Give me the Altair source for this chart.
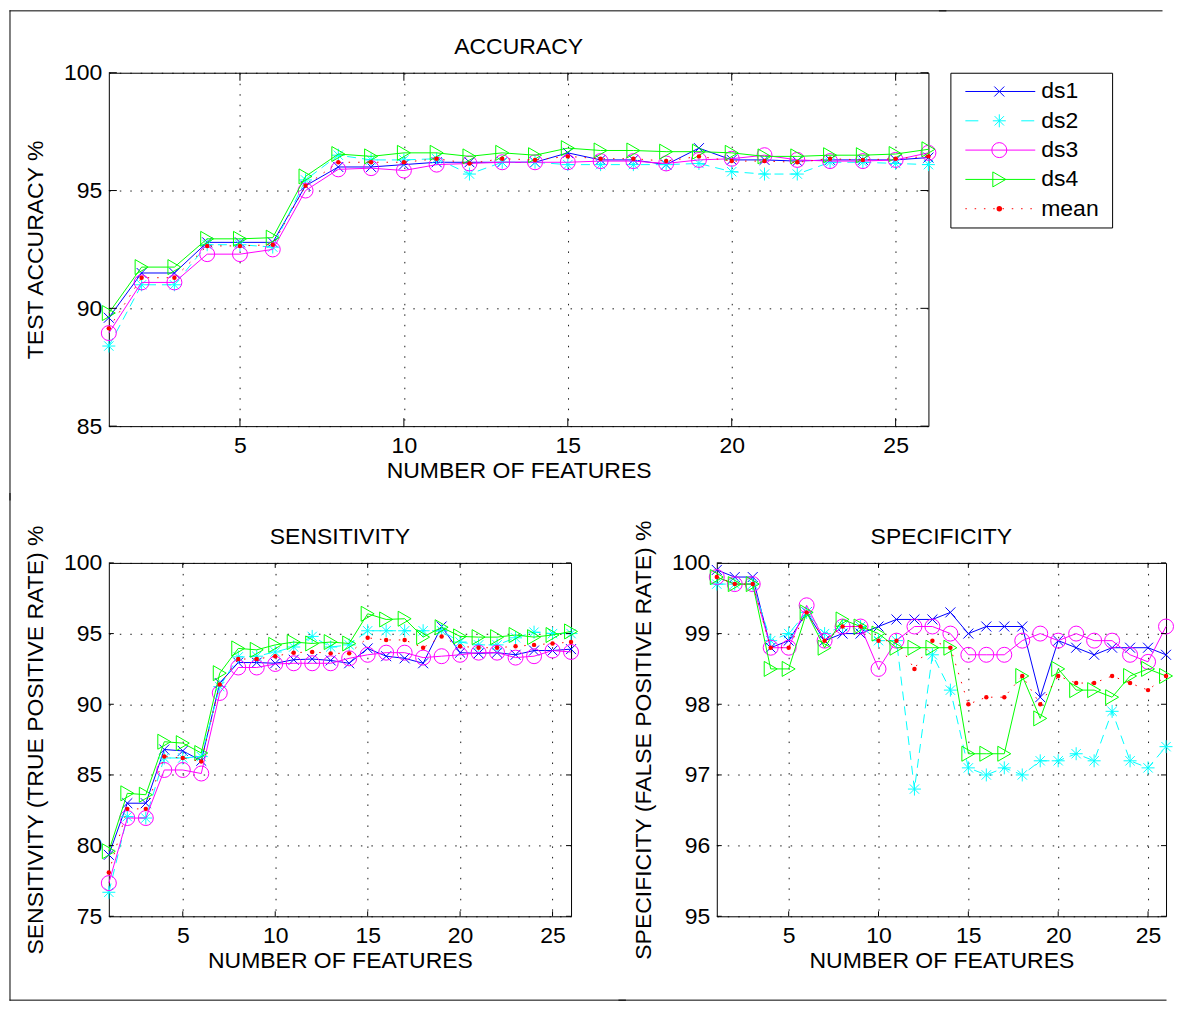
import altair as alt
import pandas as pd

# ---------------- data ----------------
features = list(range(1, 27))
series = ["ds1", "ds2", "ds3", "ds4", "mean"]
x_ticks = [5, 10, 15, 20, 25]

acc_ds1 = [89.6, 91.5, 91.5, 92.8, 92.8, 92.8, 95.2, 96.0, 96.0, 96.1, 96.2, 96.2, 96.2,
           96.2, 96.6, 96.3, 96.3, 96.1, 96.8, 96.3, 96.3, 96.25, 96.3, 96.3, 96.3, 96.4]
acc_ds2 = [88.4, 91.0, 91.0, 92.7, 92.7, 92.6, 95.45, 96.5, 96.3, 96.3, 96.35, 95.7, 96.2,
           96.2, 96.1, 96.1, 96.1, 96.1, 96.15, 95.8, 95.7, 95.7, 96.2, 96.2, 96.15, 96.1]
acc_ds3 = [88.95, 91.1, 91.1, 92.3, 92.3, 92.5, 95.0, 95.9, 95.95, 95.85, 96.1, 96.15, 96.2,
           96.2, 96.2, 96.25, 96.25, 96.15, 96.3, 96.35, 96.5, 96.3, 96.25, 96.25, 96.3, 96.6]
acc_ds4 = [89.8, 91.75, 91.75, 92.95, 92.95, 93.0, 95.6, 96.55, 96.45, 96.6, 96.6, 96.45, 96.6,
           96.5, 96.8, 96.7, 96.7, 96.65, 96.65, 96.6, 96.45, 96.45, 96.5, 96.5, 96.55, 96.75]
acc_mean = [89.15, 91.3, 91.3, 92.65, 92.65, 92.7, 95.2, 96.2, 96.2, 96.2, 96.35, 96.15, 96.35,
            96.3, 96.45, 96.35, 96.35, 96.25, 96.45, 96.25, 96.25, 96.2, 96.35, 96.3, 96.35, 96.45]

sen_ds1 = [79.35, 83.0, 83.0, 86.8, 86.7, 86.0, 91.5, 92.95, 92.95, 92.9, 93.15, 93.2, 93.1,
           92.9, 93.95, 93.4, 93.25, 92.9, 95.5, 93.65, 93.6, 93.65, 93.5, 93.8, 93.8, 93.9]
sen_ds2 = [76.7, 82.05, 81.95, 86.2, 86.2, 86.3, 91.25, 93.35, 93.4, 93.7, 94.05, 94.8, 94.05,
           94.2, 95.2, 95.2, 95.2, 95.2, 95.2, 94.4, 94.2, 94.2, 94.7, 95.1, 95.0, 95.0]
sen_ds3 = [77.35, 81.95, 81.95, 85.35, 85.35, 85.1, 90.8, 92.6, 92.6, 92.85, 92.9, 92.9, 92.9,
           93.25, 93.5, 93.65, 93.65, 93.3, 93.4, 93.5, 93.65, 93.65, 93.3, 93.4, 93.8, 93.7]
sen_ds4 = [79.6, 83.7, 83.6, 87.35, 87.25, 86.55, 92.2, 93.95, 93.85, 94.2, 94.4, 94.3, 94.4,
           94.3, 96.4, 96.0, 96.05, 94.75, 95.45, 94.8, 94.75, 94.75, 94.9, 94.75, 94.9, 95.15]
sen_mean = [78.1, 82.6, 82.6, 86.3, 86.2, 85.95, 91.4, 93.2, 93.2, 93.4, 93.65, 93.7, 93.6,
            93.6, 94.7, 94.55, 94.55, 94.0, 94.8, 94.1, 94.0, 94.0, 94.1, 94.2, 94.3, 94.4]

spe_ds1 = [99.9, 99.8, 99.8, 98.8, 98.9, 99.3, 98.9, 99.0, 99.0, 99.1, 99.2, 99.2, 99.2,
           99.3, 99.0, 99.1, 99.1, 99.1, 98.1, 98.9, 98.8, 98.7, 98.8, 98.8, 98.8, 98.7]
spe_ds2 = [99.7, 99.7, 99.7, 98.9, 99.0, 99.3, 99.0, 99.1, 99.1, 98.9, 98.9, 96.8, 98.7,
           98.2, 97.1, 97.0, 97.1, 97.0, 97.2, 97.2, 97.3, 97.2, 97.9, 97.2, 97.1, 97.4]
spe_ds3 = [99.8, 99.7, 99.7, 98.8, 98.8, 99.4, 98.9, 99.1, 99.1, 98.5, 98.9, 99.1, 99.1,
           99.0, 98.7, 98.7, 98.7, 98.9, 99.0, 98.9, 99.0, 98.9, 98.9, 98.7, 98.6, 99.1]
spe_ds4 = [99.8, 99.7, 99.7, 98.5, 98.5, 99.3, 98.8, 99.2, 99.1, 99.0, 98.8, 98.8, 98.8,
           98.8, 97.3, 97.3, 97.3, 98.4, 97.8, 98.5, 98.2, 98.2, 98.1, 98.4, 98.5, 98.4]
spe_mean = [99.8, 99.7, 99.7, 98.8, 98.8, 99.3, 98.9, 99.1, 99.1, 98.9, 98.9, 98.5, 98.9,
            98.8, 98.0, 98.1, 98.1, 98.4, 98.0, 98.4, 98.3, 98.3, 98.4, 98.3, 98.2, 98.4]

acc = dict(zip(series, [acc_ds1, acc_ds2, acc_ds3, acc_ds4, acc_mean]))
sen = dict(zip(series, [sen_ds1, sen_ds2, sen_ds3, sen_ds4, sen_mean]))
spe = dict(zip(series, [spe_ds1, spe_ds2, spe_ds3, spe_ds4, spe_mean]))

# ---------------- styles ----------------
FONT = "Liberation Sans"
FS = 23
XMARK = "M-1,-1L1,1M-1,1L1,-1"
ASTER = "M-1,0L1,0M0,-1L0,1M-0.72,-0.72L0.72,0.72M-0.72,0.72L0.72,-0.72"
style = {
    "ds1": dict(color="#0000ff", dash=None, shape=XMARK, size=100, filled=False),
    "ds2": dict(color="#00ffff", dash=[9, 6], shape=ASTER, size=169, filled=False),
    "ds3": dict(color="#ff00ff", dash=None, shape="circle", size=225, filled=False),
    "ds4": dict(color="#00ff00", dash=None, shape="triangle-right", size=225, filled=False),
    "mean": dict(color="#ff0000", dash=[1.5, 8], shape="circle", size=20, filled=True),
}

GAP = -10  # concat spacing

one = pd.DataFrame({"k": [0]})


def frame_rule(x=None, x2=None, y=None, y2=None):
    enc = {}
    for k, v in (("x", x), ("x2", x2), ("y", y), ("y2", y2)):
        if v is not None:
            enc[k] = alt.value(v)
    return alt.Chart(one).mark_rule(color="black", strokeWidth=1,
                                    strokeCap="square").encode(**enc)


def panel(values, title, ytitle, ydom, yticks, w, h, tick, frame):
    xscale = alt.Scale(domain=[1, 26], nice=False, zero=False)
    yscale = alt.Scale(domain=ydom, nice=False, zero=False)
    xaxis = alt.Axis(values=x_ticks, format="d", title="NUMBER OF FEATURES", grid=True,
                     ticks=False, domain=False, labelPadding=8, titlePadding=2)
    yaxis = alt.Axis(values=yticks, format="d", title=ytitle, grid=True, ticks=False,
                     domain=False, labelPadding=7, titlePadding=16)
    xenc = alt.X("feature:Q", scale=xscale, axis=xaxis)
    yenc = alt.Y("value:Q", scale=yscale, axis=yaxis)
    layers = []
    for s in series:
        st = style[s]
        df = pd.DataFrame({"feature": features, "value": values[s]})
        lkw = dict(color=st["color"], strokeWidth=1)
        if st["dash"]:
            lkw["strokeDash"] = st["dash"]
        layers.append(alt.Chart(df).mark_line(**lkw).encode(x=xenc, y=yenc))
        layers.append(
            alt.Chart(df).mark_point(shape=st["shape"], size=st["size"],
                                     filled=st["filled"], color=st["color"],
                                     strokeWidth=1, opacity=1).encode(x=xenc, y=yenc))
    # inward tick marks on all four sides
    xt = pd.DataFrame({"feature": x_ticks})
    yt = pd.DataFrame({"value": yticks})
    tk = dict(color="black", strokeWidth=1)
    layers.append(alt.Chart(xt).mark_rule(**tk).encode(
        x=xenc, y=alt.value(h), y2=alt.value(h - tick)))
    layers.append(alt.Chart(xt).mark_rule(**tk).encode(
        x=xenc, y=alt.value(0), y2=alt.value(tick)))
    layers.append(alt.Chart(yt).mark_rule(**tk).encode(
        y=yenc, x=alt.value(0), x2=alt.value(tick)))
    layers.append(alt.Chart(yt).mark_rule(**tk).encode(
        y=yenc, x=alt.value(w), x2=alt.value(w - tick)))
    # panel title
    layers.append(alt.Chart(one).mark_text(
        text=title, align="center", baseline="alphabetic", fontSize=FS, font=FONT,
        color="black").encode(x=alt.value(w / 2), y=alt.value(-19)))
    layers += [frame_rule(**f) for f in frame]
    return alt.layer(*layers).properties(width=w, height=h)


# outer figure frame pieces (relative to each panel's plot area)
top_frame = [dict(x=-99, y=-62, y2=428), dict(x=-99, x2=838.5, y=-62)]
leg_frame = [dict(x=-11, x2=212, y=-62)]
sen_frame = [dict(x=-99, y=-69.5, y2=438), dict(x=-99, x2=517.5, y=438)]
spe_frame = [dict(x=-98, x2=450, y=438)]

top = panel(acc, "ACCURACY", "TEST ACCURACY %", [85, 100], [85, 90, 95, 100],
            821, 354, 8, top_frame)
sens = panel(sen, "SENSITIVITY", "SENSITIVITY (TRUE POSITIVE RATE) %", [75, 100],
             [75, 80, 85, 90, 95, 100], 463, 354, 5, sen_frame)
spec = panel(spe, "SPECIFICITY", "SPECIFICITY (FALSE POSITIVE RATE) %", [95, 100],
             [95, 96, 97, 98, 99, 100], 450, 354, 5, spe_frame)

# ---------------- legend (drawn as a small chart) ----------------
leg_df = pd.DataFrame({"series": series})
yleg = alt.Y("series:N", scale=alt.Scale(domain=series, type="point", padding=0.64),
             axis=None)
leg_layers = []
for s in series:
    st = style[s]
    d = leg_df[leg_df["series"] == s]
    rkw = dict(color=st["color"], strokeWidth=1)
    if s == "ds2":
        rkw["strokeDash"] = [13, 43]
    if s == "mean":
        rkw["strokeDash"] = [1.5, 7.8]
    leg_layers.append(alt.Chart(d).mark_rule(**rkw).encode(
        x=alt.value(15), x2=alt.value(85), y=yleg))
    leg_layers.append(alt.Chart(d).mark_point(
        shape=st["shape"], size=st["size"] if s != "mean" else 30, filled=st["filled"],
        color=st["color"], strokeWidth=1, opacity=1).encode(x=alt.value(49), y=yleg))
leg_layers.append(alt.Chart(leg_df).mark_text(
    align="left", baseline="middle", fontSize=FS, font=FONT, color="black").encode(
    x=alt.value(91), y=yleg, text="series:N"))
leg_layers += [frame_rule(**f) for f in leg_frame]
legend = alt.layer(*leg_layers).properties(width=162, height=155)

chart = alt.vconcat(
    alt.hconcat(top, legend, spacing=GAP),
    alt.hconcat(sens, spec, spacing=GAP),
    spacing=GAP,
).properties(
    padding={"left": 0, "top": 0, "right": 0, "bottom": 0},
    background="white",
).configure(font=FONT).configure_view(
    stroke="black", strokeWidth=1, fill="white"
).configure_axis(
    labelFont=FONT, titleFont=FONT, labelFontSize=FS, titleFontSize=FS,
    titleFontWeight="normal", labelColor="black", titleColor="black",
    gridColor="black", gridDash=[1.5, 9], gridOpacity=0.9, gridWidth=1,
)

chart.save("out.html", embed_options={"renderer": "svg", "actions": False})
